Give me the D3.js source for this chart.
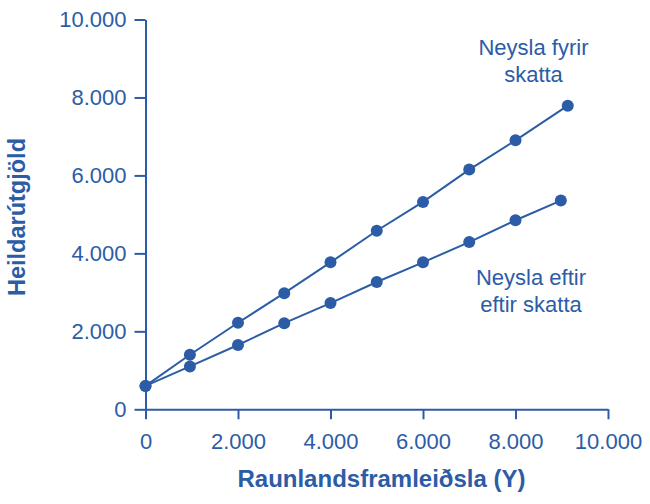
<!DOCTYPE html>
<html>
<head>
<meta charset="utf-8">
<script src="https://cdn.jsdelivr.net/npm/d3@7"></script>
<style>
    body { margin: 0; background: #fff; }
    svg { display: block; font-family: "Liberation Sans", Arial, sans-serif; }
</style>
</head>
<body>
<div id="chart"></div>
<script>
//size and margins
const width = 650;
const height = 504;
const margin = { top: 19.5, right: 42, bottom: 94.7, left: 145.5 };
const innerwidth = width - margin.left - margin.right;
const innerheight = height - margin.top - margin.bottom;

const blue = "#2c5ca6";

//tick values for both axes
const xTicks = [0, 2000, 4000, 6000, 8000, 10000];
const yTicks = [0, 2000, 4000, 6000, 8000, 10000];

//consumption before taxes (upper line)
const beforeX = [0, 960, 2000, 3000, 4000, 5000, 6000, 7000, 8000, 9130];
const beforeY = [600, 1400, 2220, 2980, 3770, 4580, 5320, 6150, 6900, 7790];

//consumption after taxes (lower line)
const afterX = [0, 960, 2000, 3000, 4000, 5000, 6000, 7000, 8000, 8980];
const afterY = [600, 1100, 1650, 2210, 2725, 3265, 3770, 4290, 4850, 5355];

//series labels, one entry per line of text
const beforeLabel = ["Neysla fyrir", "skatta"];
const afterLabel = ["Neysla eftir", "eftir skatta"];

//build point lists from the arrays
const beforeData = beforeX.map(function (x, i) { return { x: x, y: beforeY[i] }; });
const afterData = afterX.map(function (x, i) { return { x: x, y: afterY[i] }; });

//icelandic number format, dot as thousands separator
const fmt = function (d) { return d3.format(",")(d).replace(/,/g, "."); };

const x = d3.scaleLinear()
    .domain([0, 10000])
    .range([0, innerwidth]);

const y = d3.scaleLinear()
    .domain([0, 10000])
    .range([innerheight, 0]);

const svg = d3.select("#chart")
    .append("svg")
    .attr("width", width)
    .attr("height", height)
    .append("g")
    .attr("transform", "translate(" + margin.left + "," + margin.top + ")");

//x axis
const xAxis = svg.append("g")
    .attr("transform", "translate(0," + innerheight + ")")
    .call(d3.axisBottom(x).tickValues(xTicks).tickFormat(fmt).tickSize(10).tickSizeOuter(0).tickPadding(14));

//y axis
const yAxis = svg.append("g")
    .call(d3.axisLeft(y).tickValues(yTicks).tickFormat(fmt).tickSize(11).tickSizeOuter(0).tickPadding(8));

[xAxis, yAxis].forEach(function (ax) {
    ax.select(".domain").attr("stroke", blue).attr("stroke-width", 2);
    ax.selectAll(".tick line").attr("stroke", blue).attr("stroke-width", 2);
    ax.selectAll(".tick text")
        .attr("fill", blue)
        .style("font-size", "22px")
        .style("font-family", "'Liberation Sans', Arial, sans-serif");
});

//axis titles
svg.append("text")
    .attr("x", 381.5 - margin.left)
    .attr("y", innerheight + 78)
    .attr("text-anchor", "middle")
    .attr("fill", blue)
    .style("font-size", "24px")
    .style("font-weight", "bold")
    .text("Raunlandsframleiðsla (Y)");

svg.append("text")
    .attr("transform", "rotate(-90)")
    .attr("x", -(217 - margin.top))
    .attr("y", -margin.left + 25)
    .attr("text-anchor", "middle")
    .attr("fill", blue)
    .style("font-size", "23.5px")
    .style("font-weight", "bold")
    .text("Heildarútgjöld");

//lines
const line = d3.line()
    .x(function (d) { return x(d.x); })
    .y(function (d) { return y(d.y); });

[beforeData, afterData].forEach(function (data) {
    svg.append("path")
        .datum(data)
        .attr("fill", "none")
        .attr("stroke", blue)
        .attr("stroke-width", 2)
        .attr("d", line);

    svg.append("g")
        .selectAll("circle")
        .data(data)
        .enter()
        .append("circle")
        .attr("cx", function (d) { return x(d.x); })
        .attr("cy", function (d) { return y(d.y); })
        .attr("r", 6)
        .attr("fill", blue);
});

//series labels
function drawLabel(lines, cx, baseline) {
    const t = svg.append("text")
        .attr("text-anchor", "middle")
        .attr("fill", blue)
        .style("font-size", "22px");
    lines.forEach(function (s, i) {
        t.append("tspan")
            .attr("x", cx)
            .attr("y", baseline + i * 26.5)
            .text(s);
    });
}

drawLabel(beforeLabel, 533.5 - margin.left, 55 - margin.top);
drawLabel(afterLabel, 531 - margin.left, 285 - margin.top);
</script>
</body>
</html>
